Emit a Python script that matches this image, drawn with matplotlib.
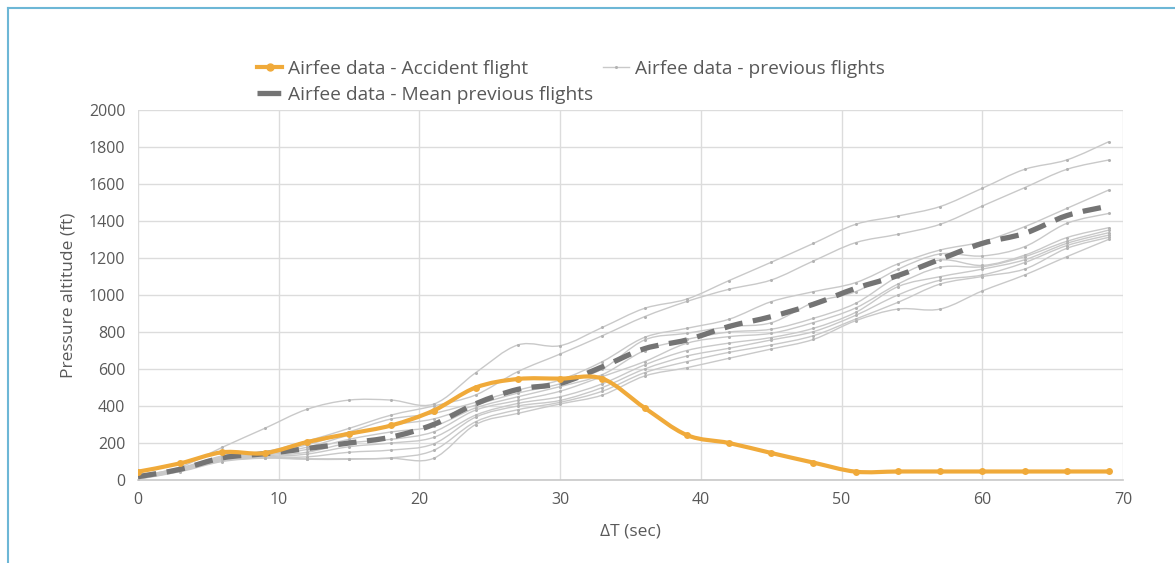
import numpy as np
import matplotlib
matplotlib.use("Agg")
import matplotlib.pyplot as plt
from matplotlib.path import Path
from matplotlib.patches import PathPatch
from matplotlib.lines import Line2D

# ---------------- data ----------------
t = [0, 3, 6, 9, 12, 15, 18, 21, 24, 27, 30, 33, 36, 39, 42, 45, 48, 51, 54, 57, 60, 63, 66, 69]

accident = [45, 90, 150, 145, 205, 250, 295, 375, 500, 546, 548, 548, 390, 243, 200, 146, 94, 45, 46, 46, 46, 46, 46, 46]

mean_prev = [18, 58, 120, 142, 170, 200, 232, 300, 412, 490, 522, 612, 710, 757, 830, 883, 950, 1036, 1105, 1193, 1279, 1333, 1429, 1481]

prev1 = [20, 70, 177, 279, 382, 432, 432, 410, 580, 730, 726, 825, 928, 978, 1078, 1177, 1279, 1382, 1427, 1478, 1577, 1679, 1730, 1829]
prev2 = [18, 65, 130, 153, 210, 279, 351, 400, 460, 586, 681, 780, 883, 965, 1031, 1081, 1184, 1283, 1328, 1382, 1481, 1580, 1679, 1730]
prev3 = [15, 62, 125, 145, 190, 260, 330, 360, 420, 486, 541, 640, 771, 820, 869, 964, 1018, 1067, 1168, 1243, 1288, 1369, 1468, 1568]
prev4 = [14, 60, 120, 140, 177, 243, 297, 330, 405, 470, 520, 600, 757, 793, 829, 850, 959, 1018, 1139, 1222, 1211, 1261, 1387, 1441]
prev5 = [12, 58, 115, 135, 165, 220, 260, 290, 390, 450, 505, 570, 700, 760, 800, 815, 874, 955, 1100, 1189, 1160, 1215, 1310, 1364]
prev6 = [10, 55, 112, 130, 150, 200, 220, 260, 378, 430, 480, 559, 640, 739, 775, 793, 851, 930, 1059, 1150, 1153, 1207, 1290, 1351]
prev7 = [10, 53, 110, 125, 140, 180, 200, 230, 351, 414, 450, 520, 622, 700, 740, 770, 820, 906, 1045, 1099, 1140, 1190, 1279, 1337]
prev8 = [8, 50, 108, 123, 125, 150, 162, 195, 340, 400, 430, 500, 600, 670, 712, 757, 802, 890, 1000, 1080, 1108, 1175, 1267, 1324]
prev9 = [6, 48, 105, 120, 115, 115, 120, 160, 315, 380, 420, 480, 580, 640, 690, 730, 780, 870, 960, 1059, 1100, 1140, 1252, 1312]
prev10 = [5, 45, 100, 118, 112, 112, 117, 117, 300, 360, 411, 459, 562, 607, 658, 708, 760, 861, 924, 924, 1022, 1108, 1207, 1301]
previous = [prev1, prev2, prev3, prev4, prev5, prev6, prev7, prev8, prev9, prev10]

x_ticks = [0, 10, 20, 30, 40, 50, 60, 70]
y_ticks = [0, 200, 400, 600, 800, 1000, 1200, 1400, 1600, 1800, 2000]

label_acc = "Airfee data - Accident flight"
label_prev = "Airfee data - previous flights"
label_mean = "Airfee data - Mean previous flights"
xlabel = "\u0394T (sec)"
ylabel = "Pressure altitude (ft)"

# ---------------- style ----------------
FONT = ["Open Sans", "DejaVu Sans"]
plt.rcParams['font.family'] = FONT
TXT = "#595959"
ORANGE = "#F0AA3A"
GRAYL = "#c9c9c9"
GRAYM = "#b3b3b3"
MEANC = "#747474"
MEAN_DASH = (0, (3.5, 2.0))


def smooth_path(xs, ys):
    P = np.column_stack([xs, ys]).astype(float)
    n = len(P)
    verts = [P[0]]
    codes = [Path.MOVETO]
    for i in range(n - 1):
        p0 = P[i - 1] if i > 0 else P[i]
        p1 = P[i]
        p2 = P[i + 1]
        p3 = P[i + 2] if i + 2 < n else P[i + 1]
        c1 = p1 + (p2 - p0) / 6.0
        c2 = p2 - (p3 - p1) / 6.0
        verts += [c1, c2, p2]
        codes += [Path.CURVE4] * 3
    return Path(verts, codes)


fig = plt.figure(figsize=(11.75, 5.63), dpi=100)
ax = fig.add_axes([138 / 1175, 1 - 480 / 563, (1123 - 138) / 1175, (480 - 110) / 563])

ax.set_xlim(0, 70)
ax.set_ylim(0, 2000)
ax.set_xticks(x_ticks)
ax.set_yticks(y_ticks)
ax.grid(True, color="#dcdcdc", linewidth=1.0)
ax.set_axisbelow(True)
for s in ["top", "right", "left"]:
    ax.spines[s].set_visible(False)
ax.spines["bottom"].set_color("#c8c8c8")
ax.spines["bottom"].set_linewidth(1.2)
ax.tick_params(length=0, labelsize=11.5, labelcolor=TXT, pad=9)

# previous flights
for yv in previous:
    ax.add_patch(PathPatch(smooth_path(t, yv), facecolor="none", edgecolor=GRAYL,
                           linewidth=1.0, zorder=2))
    ax.plot(t, yv, linestyle="none", marker="o", markersize=2.2, color=GRAYM,
            markeredgewidth=0, zorder=2)

# mean
ax.add_patch(PathPatch(smooth_path(t, mean_prev), facecolor="none", edgecolor=MEANC,
                       linewidth=3.8, linestyle=MEAN_DASH, zorder=3))

# accident
ax.add_patch(PathPatch(smooth_path(t, accident), facecolor="none", edgecolor=ORANGE,
                       linewidth=3.0, zorder=4, capstyle="round"))
ax.plot(t, accident, linestyle="none", marker="o", markersize=5, color=ORANGE,
        markeredgewidth=0, zorder=4)

ax.set_xlabel(xlabel, fontsize=12.5, color=TXT, labelpad=11)
ax.set_ylabel(ylabel, fontsize=12.5, color=TXT, labelpad=9)

h_acc = Line2D([], [], color=ORANGE, linewidth=3, marker="o", markersize=5)
h_prev = Line2D([], [], color=GRAYL, linewidth=1, marker="o", markersize=2.2,
                markerfacecolor=GRAYM, markeredgewidth=0)
h_mean = Line2D([], [], color=MEANC, linewidth=3.8, linestyle=(0, (4.5, 10)))
leg = fig.legend([h_acc, h_mean, h_prev], [label_acc, label_mean, label_prev],
                 ncol=2, loc="upper left", bbox_to_anchor=(247 / 1175, 1 - 50 / 563),
                 frameon=False, fontsize=13.8, handlelength=1.35, handletextpad=0.3,
                 columnspacing=0.5, labelspacing=0.42, borderpad=0)
for txt in leg.get_texts():
    txt.set_color(TXT)

# figure border (top & left light-blue lines)
fig.add_artist(Line2D([8 / 1175, 1], [1 - 8 / 563, 1 - 8 / 563], transform=fig.transFigure,
                      color="#6db7d6", linewidth=1.5))
fig.add_artist(Line2D([8 / 1175, 8 / 1175], [0, 1 - 8 / 563], transform=fig.transFigure,
                      color="#6db7d6", linewidth=1.5))

fig.savefig("out.png", dpi=100)
